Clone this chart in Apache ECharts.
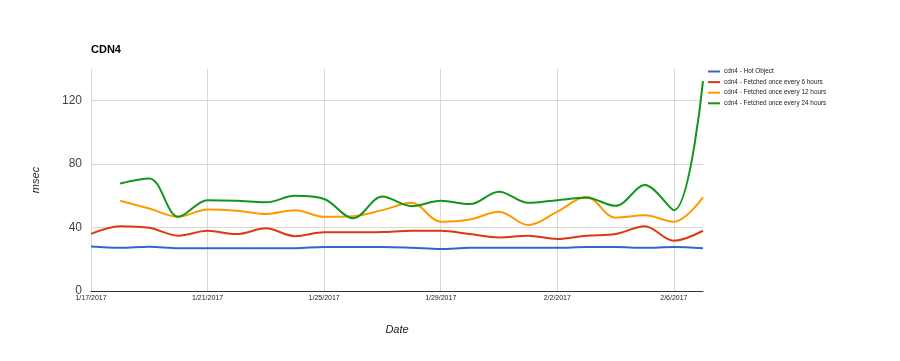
<!DOCTYPE html>
<html><head><meta charset="utf-8">
<script src="https://cdn.jsdelivr.net/npm/echarts@6/dist/echarts.min.js"></script>
<style>html,body{margin:0;padding:0;background:#fff}#c{width:900px;height:361px}</style>
</head><body><div id="c"></div>
<script>
const dates = ["1/17/2017","1/18/2017","1/19/2017","1/20/2017","1/21/2017","1/22/2017","1/23/2017","1/24/2017","1/25/2017","1/26/2017","1/27/2017","1/28/2017","1/29/2017","1/30/2017","1/31/2017","2/1/2017","2/2/2017","2/3/2017","2/4/2017","2/5/2017","2/6/2017","2/7/2017"];
const hotObject = [28,27.2,27.9,27,27,27,27,27,27.8,27.8,27.8,27.3,26.5,27.2,27.2,27.2,27.2,27.8,27.8,27.2,27.8,27];
const every6h  = [36,40.9,39.9,34.9,38,35.9,39.5,34.6,37,37,37.2,38,38,35.9,33.8,34.9,32.8,34.9,35.9,40.9,31.7,38];
const every12h = [null,56.9,52,46.8,51.4,50.6,48.5,51,46.8,47.2,51,55.6,43.7,45.1,50,41.6,50,59.4,46.2,47.7,43.7,59];
const every24h = [null,67.8,71,46.8,57.3,56.9,55.9,60,58,45.8,59.6,53.5,56.9,54.8,62.6,55.6,57.3,58.8,53.7,66.8,51,132.3];
const seriesNames = ["cdn4 - Hot Object","cdn4 - Fetched once every 6 hours","cdn4 - Fetched once every 12 hours","cdn4 - Fetched once every 24 hours"];
const colors = ["#3366cc","#dc3912","#ff9900","#109618"];
const values = [hotObject, every6h, every12h, every24h];

const chart = echarts.init(document.getElementById('c'));
chart.setOption({
  animation: false,
  color: colors,
  title: { text: 'CDN4', left: 86, top: 39, textStyle: { fontSize: 11, fontWeight: 'bold', color: '#000', fontFamily: 'Arial, Liberation Sans' } },
  legend: {
    orient: 'vertical', left: 708, top: 68, padding: 0, itemWidth: 12, itemHeight: 2, itemGap: 3.6,
    icon: 'rect',
    textStyle: { fontSize: 6.4, lineHeight: 7, color: '#222', padding: [0, 0, 0, -1], fontFamily: 'Arial, Liberation Sans' },
    data: seriesNames
  },
  grid: { left: 91, right: 197, top: 69, bottom: 70 },
  xAxis: {
    type: 'category', data: dates, boundaryGap: false,
    name: 'Date', nameLocation: 'middle', nameGap: 33,
    nameTextStyle: { fontStyle: 'italic', fontSize: 11, color: '#222', fontFamily: 'Arial, Liberation Sans' },
    axisLine: { lineStyle: { color: '#333', width: 1 } },
    axisTick: { show: false },
    axisLabel: { interval: 3, fontSize: 7, color: '#222', margin: 4, fontFamily: 'Arial, Liberation Sans' },
    splitLine: { show: true, interval: 3, lineStyle: { color: '#d9d9d9' } }
  },
  yAxis: {
    type: 'value', min: 0, max: 140, interval: 40,
    name: 'msec', nameLocation: 'middle', nameGap: 50,
    nameTextStyle: { fontStyle: 'italic', fontSize: 11, color: '#222', fontFamily: 'Arial, Liberation Sans' },
    axisLine: { show: false }, axisTick: { show: false },
    axisLabel: { fontSize: 12, color: '#444', margin: 9, fontFamily: 'Arial, Liberation Sans',
      formatter: v => (v % 40 === 0 ? String(v) : '') },
    splitLine: { show: true, showMaxLine: false, lineStyle: { color: '#d9d9d9' } }
  },
  series: seriesNames.map((n, i) => ({
    name: n, type: 'line', data: values[i], smooth: 0.35, showSymbol: false, symbol: 'none',
    lineStyle: { width: 2, color: colors[i] }, itemStyle: { color: colors[i] }
  }))
});
</script></body></html>
